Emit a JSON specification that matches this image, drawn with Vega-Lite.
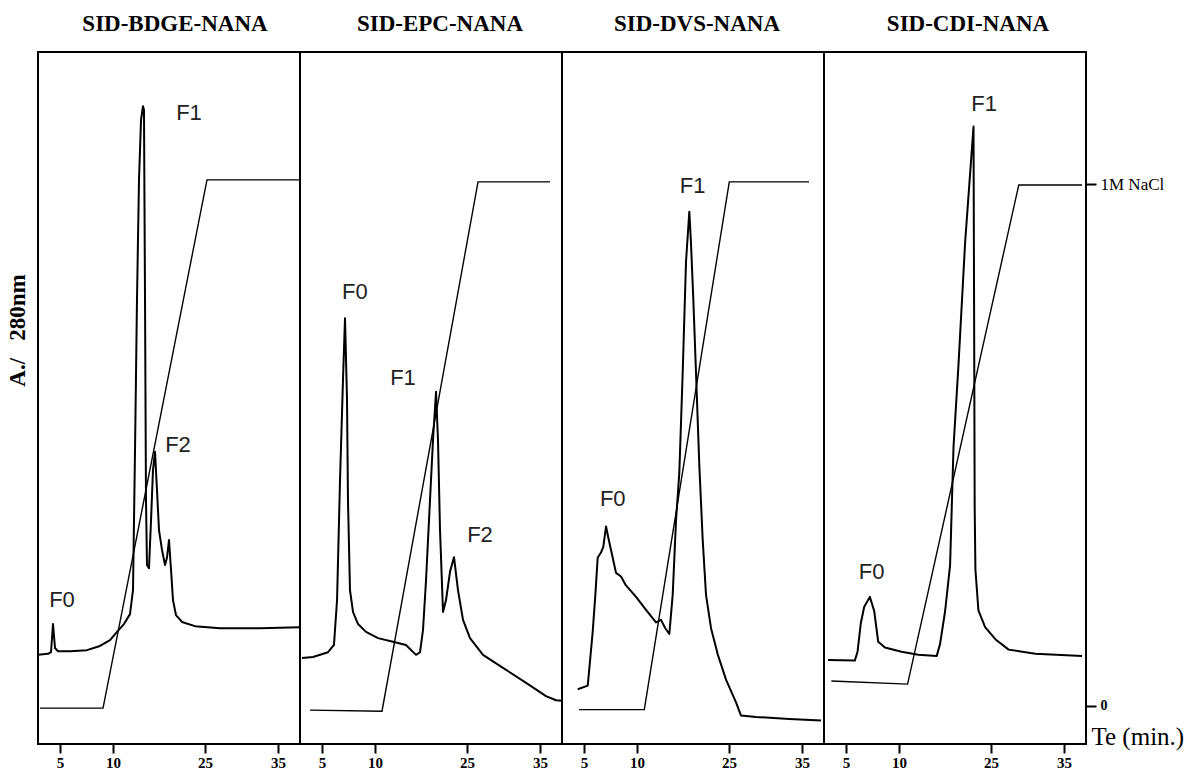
{
  "$schema": "https://vega.github.io/schema/vega-lite/v6.json",
  "background": "white",
  "padding": {"left": 5, "top": 12, "right": 0, "bottom": 0},
  "config": {
    "view": {"stroke": "black", "strokeWidth": 2},
    "axis": {"grid": false}
  },
  "datasets": {
    "abs": [
      {"panel": "BDGE", "t": 2.93, "v": 0.098}, {"panel": "BDGE", "t": 3.87, "v": 0.100}, {"panel": "BDGE", "t": 4.15, "v": 0.103}, {"panel": "BDGE", "t": 4.34, "v": 0.157}, {"panel": "BDGE", "t": 4.53, "v": 0.111}, {"panel": "BDGE", "t": 4.81, "v": 0.105}, {"panel": "BDGE", "t": 5.94, "v": 0.105}, {"panel": "BDGE", "t": 7.55, "v": 0.107}, {"panel": "BDGE", "t": 8.77, "v": 0.115}, {"panel": "BDGE", "t": 9.72, "v": 0.126}, {"panel": "BDGE", "t": 10.65, "v": 0.142}, {"panel": "BDGE", "t": 11.79, "v": 0.157}, {"panel": "BDGE", "t": 12.77, "v": 0.176}, {"panel": "BDGE", "t": 13.26, "v": 0.222}, {"panel": "BDGE", "t": 13.59, "v": 0.490}, {"panel": "BDGE", "t": 13.91, "v": 0.778}, {"panel": "BDGE", "t": 14.24, "v": 1.008}, {"panel": "BDGE", "t": 14.57, "v": 1.123}, {"panel": "BDGE", "t": 14.89, "v": 1.149}, {"panel": "BDGE", "t": 15.05, "v": 1.142}, {"panel": "BDGE", "t": 15.22, "v": 0.778}, {"panel": "BDGE", "t": 15.38, "v": 0.395}, {"panel": "BDGE", "t": 15.54, "v": 0.270}, {"panel": "BDGE", "t": 15.87, "v": 0.264}, {"panel": "BDGE", "t": 16.20, "v": 0.356}, {"panel": "BDGE", "t": 16.52, "v": 0.452}, {"panel": "BDGE", "t": 16.85, "v": 0.487}, {"panel": "BDGE", "t": 17.17, "v": 0.414}, {"panel": "BDGE", "t": 17.50, "v": 0.337}, {"panel": "BDGE", "t": 17.99, "v": 0.299}, {"panel": "BDGE", "t": 18.48, "v": 0.270}, {"panel": "BDGE", "t": 18.80, "v": 0.284}, {"panel": "BDGE", "t": 19.13, "v": 0.318}, {"panel": "BDGE", "t": 19.46, "v": 0.261}, {"panel": "BDGE", "t": 19.78, "v": 0.203}, {"panel": "BDGE", "t": 20.27, "v": 0.174}, {"panel": "BDGE", "t": 21.25, "v": 0.161}, {"panel": "BDGE", "t": 23.37, "v": 0.153}, {"panel": "BDGE", "t": 27.06, "v": 0.149}, {"panel": "BDGE", "t": 32.53, "v": 0.149}, {"panel": "BDGE", "t": 38.0, "v": 0.151},
      {"panel": "EPC", "t": 3.11, "v": 0.092}, {"panel": "EPC", "t": 4.15, "v": 0.094}, {"panel": "EPC", "t": 5.57, "v": 0.103}, {"panel": "EPC", "t": 6.13, "v": 0.117}, {"panel": "EPC", "t": 6.42, "v": 0.203}, {"panel": "EPC", "t": 6.70, "v": 0.433}, {"panel": "EPC", "t": 6.98, "v": 0.625}, {"panel": "EPC", "t": 7.17, "v": 0.743}, {"panel": "EPC", "t": 7.36, "v": 0.586}, {"panel": "EPC", "t": 7.45, "v": 0.395}, {"panel": "EPC", "t": 7.64, "v": 0.222}, {"panel": "EPC", "t": 7.93, "v": 0.180}, {"panel": "EPC", "t": 8.40, "v": 0.157}, {"panel": "EPC", "t": 9.15, "v": 0.142}, {"panel": "EPC", "t": 10.49, "v": 0.130}, {"panel": "EPC", "t": 12.94, "v": 0.123}, {"panel": "EPC", "t": 15.05, "v": 0.117}, {"panel": "EPC", "t": 16.69, "v": 0.098}, {"panel": "EPC", "t": 17.34, "v": 0.103}, {"panel": "EPC", "t": 17.83, "v": 0.146}, {"panel": "EPC", "t": 18.32, "v": 0.241}, {"panel": "EPC", "t": 18.97, "v": 0.395}, {"panel": "EPC", "t": 19.46, "v": 0.510}, {"panel": "EPC", "t": 19.95, "v": 0.602}, {"panel": "EPC", "t": 20.27, "v": 0.510}, {"panel": "EPC", "t": 20.60, "v": 0.337}, {"panel": "EPC", "t": 21.09, "v": 0.180}, {"panel": "EPC", "t": 21.58, "v": 0.203}, {"panel": "EPC", "t": 22.23, "v": 0.257}, {"panel": "EPC", "t": 22.88, "v": 0.285}, {"panel": "EPC", "t": 23.53, "v": 0.222}, {"panel": "EPC", "t": 24.35, "v": 0.165}, {"panel": "EPC", "t": 25.41, "v": 0.130}, {"panel": "EPC", "t": 27.19, "v": 0.098}, {"panel": "EPC", "t": 29.93, "v": 0.073}, {"panel": "EPC", "t": 33.36, "v": 0.042}, {"panel": "EPC", "t": 35.82, "v": 0.019}, {"panel": "EPC", "t": 37.19, "v": 0.011}, {"panel": "EPC", "t": 38.0, "v": 0.010},
      {"panel": "DVS", "t": 4.41, "v": 0.032}, {"panel": "DVS", "t": 5.35, "v": 0.039}, {"panel": "DVS", "t": 5.50, "v": 0.071}, {"panel": "DVS", "t": 5.82, "v": 0.142}, {"panel": "DVS", "t": 6.07, "v": 0.213}, {"panel": "DVS", "t": 6.29, "v": 0.284}, {"panel": "DVS", "t": 6.60, "v": 0.294}, {"panel": "DVS", "t": 6.82, "v": 0.305}, {"panel": "DVS", "t": 7.08, "v": 0.344}, {"panel": "DVS", "t": 7.33, "v": 0.319}, {"panel": "DVS", "t": 7.71, "v": 0.284}, {"panel": "DVS", "t": 8.02, "v": 0.255}, {"panel": "DVS", "t": 8.49, "v": 0.248}, {"panel": "DVS", "t": 8.96, "v": 0.231}, {"panel": "DVS", "t": 9.91, "v": 0.209}, {"panel": "DVS", "t": 11.47, "v": 0.184}, {"panel": "DVS", "t": 13.10, "v": 0.160}, {"panel": "DVS", "t": 13.91, "v": 0.165}, {"panel": "DVS", "t": 14.61, "v": 0.149}, {"panel": "DVS", "t": 15.27, "v": 0.138}, {"panel": "DVS", "t": 15.82, "v": 0.213}, {"panel": "DVS", "t": 16.36, "v": 0.355}, {"panel": "DVS", "t": 16.90, "v": 0.447}, {"panel": "DVS", "t": 17.45, "v": 0.639}, {"panel": "DVS", "t": 17.99, "v": 0.851}, {"panel": "DVS", "t": 18.53, "v": 0.947}, {"panel": "DVS", "t": 18.80, "v": 0.887}, {"panel": "DVS", "t": 19.18, "v": 0.780}, {"panel": "DVS", "t": 19.62, "v": 0.639}, {"panel": "DVS", "t": 20.16, "v": 0.461}, {"panel": "DVS", "t": 20.71, "v": 0.319}, {"panel": "DVS", "t": 21.25, "v": 0.213}, {"panel": "DVS", "t": 22.07, "v": 0.149}, {"panel": "DVS", "t": 23.16, "v": 0.099}, {"panel": "DVS", "t": 24.53, "v": 0.050}, {"panel": "DVS", "t": 25.96, "v": 0.007}, {"panel": "DVS", "t": 26.64, "v": -0.018}, {"panel": "DVS", "t": 28.70, "v": -0.021}, {"panel": "DVS", "t": 33.26, "v": -0.025}, {"panel": "DVS", "t": 37.60, "v": -0.028},
      {"panel": "CDI", "t": 3.30, "v": 0.088}, {"panel": "CDI", "t": 5.83, "v": 0.087}, {"panel": "CDI", "t": 6.09, "v": 0.104}, {"panel": "CDI", "t": 6.40, "v": 0.159}, {"panel": "CDI", "t": 6.72, "v": 0.190}, {"panel": "CDI", "t": 7.25, "v": 0.209}, {"panel": "CDI", "t": 7.66, "v": 0.182}, {"panel": "CDI", "t": 8.04, "v": 0.123}, {"panel": "CDI", "t": 8.67, "v": 0.112}, {"panel": "CDI", "t": 10.42, "v": 0.104}, {"panel": "CDI", "t": 13.15, "v": 0.098}, {"panel": "CDI", "t": 16.15, "v": 0.096}, {"panel": "CDI", "t": 16.70, "v": 0.119}, {"panel": "CDI", "t": 17.52, "v": 0.182}, {"panel": "CDI", "t": 18.33, "v": 0.270}, {"panel": "CDI", "t": 18.89, "v": 0.497}, {"panel": "CDI", "t": 19.70, "v": 0.654}, {"panel": "CDI", "t": 20.79, "v": 0.890}, {"panel": "CDI", "t": 22.15, "v": 1.110}, {"panel": "CDI", "t": 22.25, "v": 0.733}, {"panel": "CDI", "t": 22.34, "v": 0.379}, {"panel": "CDI", "t": 22.46, "v": 0.261}, {"panel": "CDI", "t": 22.95, "v": 0.183}, {"panel": "CDI", "t": 24.04, "v": 0.151}, {"panel": "CDI", "t": 25.59, "v": 0.128}, {"panel": "CDI", "t": 27.41, "v": 0.108}, {"panel": "CDI", "t": 31.08, "v": 0.100}, {"panel": "CDI", "t": 37.47, "v": 0.096}
    ],
    "grad": [
      {"panel": "BDGE", "t": 3.11, "v": -0.004}, {"panel": "BDGE", "t": 9.06, "v": -0.004}, {"panel": "BDGE", "t": 25.27, "v": 1.008}, {"panel": "BDGE", "t": 38.0, "v": 1.008},
      {"panel": "EPC", "t": 3.87, "v": -0.008}, {"panel": "EPC", "t": 11.14, "v": -0.010}, {"panel": "EPC", "t": 26.51, "v": 1.004}, {"panel": "EPC", "t": 36.37, "v": 1.004},
      {"panel": "DVS", "t": 4.53, "v": -0.007}, {"panel": "DVS", "t": 11.19, "v": -0.007}, {"panel": "DVS", "t": 25.04, "v": 1.004}, {"panel": "DVS", "t": 35.96, "v": 1.004},
      {"panel": "CDI", "t": 3.62, "v": 0.048}, {"panel": "CDI", "t": 11.40, "v": 0.042}, {"panel": "CDI", "t": 28.80, "v": 0.998}, {"panel": "CDI", "t": 37.47, "v": 0.998}
    ],
    "lab": [
      {"panel": "BDGE", "label": "F0", "t": 5.19, "v": 0.203}, {"panel": "BDGE", "label": "F1", "t": 22.39, "v": 1.136}, {"panel": "BDGE", "label": "F2", "t": 20.60, "v": 0.500},
      {"panel": "EPC", "label": "F0", "t": 8.11, "v": 0.793}, {"panel": "EPC", "label": "F1", "t": 14.57, "v": 0.628}, {"panel": "EPC", "label": "F2", "t": 26.78, "v": 0.328},
      {"panel": "DVS", "label": "F0", "t": 7.71, "v": 0.397}, {"panel": "DVS", "label": "F1", "t": 19.08, "v": 0.997},
      {"panel": "CDI", "label": "F0", "t": 7.41, "v": 0.257}, {"panel": "CDI", "label": "F1", "t": 23.88, "v": 1.153}
    ]
  },
  "hconcat": [
    {
      "width": 262, "height": 692,
      "title": {"text": "SID-BDGE-NANA", "font": "Liberation Serif", "fontWeight": "bold", "fontSize": 23, "offset": 16, "dx": 6, "color": "black"},
      "encoding": {
        "x": {"field": "t", "type": "quantitative", "scale": {"domain": [2.925, 5, 10, 25, 35, 38.01], "range": [0, 22, 75, 167, 240, 262], "nice": false, "zero": false},
              "axis": {"values": [5, 10, 25, 35], "title": null, "domain": false, "tickSize": 9, "tickWidth": 2, "tickColor": "black", "labelFont": "Liberation Serif", "labelFontWeight": "bold", "labelFontSize": 15, "labelColor": "black", "labelPadding": 2, "labelFlush": false, "labelOverlap": false, "format": "d"}},
        "y": {"field": "v", "type": "quantitative", "scale": {"domain": [-0.0728, 1.2529], "nice": false, "zero": false},
              "axis": {"title": "A./\u00a0\u00a0\u00a0280nm", "ticks": false, "labels": false, "domain": false, "titleFont": "Liberation Serif", "titleFontWeight": "bold", "titleFontSize": 23, "titlePadding": 9, "titleColor": "black", "titleY": 278}}
      },
      "layer": [
        {"data": {"name": "abs"}, "transform": [{"filter": "datum.panel == 'BDGE'"}], "mark": {"type": "line", "color": "black", "strokeWidth": 2, "strokeJoin": "round"}},
        {"data": {"name": "grad"}, "transform": [{"filter": "datum.panel == 'BDGE'"}], "mark": {"type": "line", "color": "black", "strokeWidth": 1.4}},
        {"data": {"name": "lab"}, "transform": [{"filter": "datum.panel == 'BDGE'"}], "mark": {"type": "text", "font": "Liberation Sans", "fontSize": 22, "color": "#222", "align": "center", "baseline": "middle"}, "encoding": {"text": {"field": "label"}}}
      ]
    },
    {
      "width": 262, "height": 692,
      "title": {"text": "SID-EPC-NANA", "font": "Liberation Serif", "fontWeight": "bold", "fontSize": 23, "offset": 16, "dx": 9, "color": "black"},
      "encoding": {
        "x": {"field": "t", "type": "quantitative", "scale": {"domain": [2.925, 5, 10, 25, 35, 38.01], "range": [0, 22, 75, 167, 240, 262], "nice": false, "zero": false},
              "axis": {"values": [5, 10, 25, 35], "title": null, "domain": false, "tickSize": 9, "tickWidth": 2, "tickColor": "black", "labelFont": "Liberation Serif", "labelFontWeight": "bold", "labelFontSize": 15, "labelColor": "black", "labelPadding": 2, "labelFlush": false, "labelOverlap": false, "format": "d"}},
        "y": {"field": "v", "type": "quantitative", "scale": {"domain": [-0.0728, 1.2529], "nice": false, "zero": false}, "axis": null}
      },
      "layer": [
        {"data": {"name": "abs"}, "transform": [{"filter": "datum.panel == 'EPC'"}], "mark": {"type": "line", "color": "black", "strokeWidth": 2, "strokeJoin": "round"}},
        {"data": {"name": "grad"}, "transform": [{"filter": "datum.panel == 'EPC'"}], "mark": {"type": "line", "color": "black", "strokeWidth": 1.4}},
        {"data": {"name": "lab"}, "transform": [{"filter": "datum.panel == 'EPC'"}], "mark": {"type": "text", "font": "Liberation Sans", "fontSize": 22, "color": "#222", "align": "center", "baseline": "middle"}, "encoding": {"text": {"field": "label"}}}
      ]
    },
    {
      "width": 262, "height": 692,
      "title": {"text": "SID-DVS-NANA", "font": "Liberation Serif", "fontWeight": "bold", "fontSize": 23, "offset": 16, "dx": 4, "color": "black"},
      "encoding": {
        "x": {"field": "t", "type": "quantitative", "scale": {"domain": [2.925, 5, 10, 25, 35, 38.01], "range": [0, 22, 75, 167, 240, 262], "nice": false, "zero": false},
              "axis": {"values": [5, 10, 25, 35], "title": null, "domain": false, "tickSize": 9, "tickWidth": 2, "tickColor": "black", "labelFont": "Liberation Serif", "labelFontWeight": "bold", "labelFontSize": 15, "labelColor": "black", "labelPadding": 2, "labelFlush": false, "labelOverlap": false, "format": "d"}},
        "y": {"field": "v", "type": "quantitative", "scale": {"domain": [-0.0728, 1.2529], "nice": false, "zero": false}, "axis": null}
      },
      "layer": [
        {"data": {"name": "abs"}, "transform": [{"filter": "datum.panel == 'DVS'"}], "mark": {"type": "line", "color": "black", "strokeWidth": 2, "strokeJoin": "round"}},
        {"data": {"name": "grad"}, "transform": [{"filter": "datum.panel == 'DVS'"}], "mark": {"type": "line", "color": "black", "strokeWidth": 1.4}},
        {"data": {"name": "lab"}, "transform": [{"filter": "datum.panel == 'DVS'"}], "mark": {"type": "text", "font": "Liberation Sans", "fontSize": 22, "color": "#222", "align": "center", "baseline": "middle"}, "encoding": {"text": {"field": "label"}}}
      ]
    },
    {
      "width": 262, "height": 692,
      "title": {"text": "SID-CDI-NANA", "font": "Liberation Serif", "fontWeight": "bold", "fontSize": 23, "offset": 16, "dx": 13, "color": "black"},
      "encoding": {
        "x": {"field": "t", "type": "quantitative", "scale": {"domain": [2.925, 5, 10, 25, 35, 38.01], "range": [0, 22, 75, 167, 240, 262], "nice": false, "zero": false},
              "axis": {"values": [5, 10, 25, 35], "title": "Te (min.)", "titleX": 267, "titleY": -8, "titleAlign": "left", "titleBaseline": "middle", "titleFont": "Liberation Serif", "titleFontWeight": "normal", "titleFontSize": 25, "titleColor": "black", "domain": false, "tickSize": 9, "tickWidth": 2, "tickColor": "black", "labelFont": "Liberation Serif", "labelFontWeight": "bold", "labelFontSize": 15, "labelColor": "black", "labelPadding": 2, "labelFlush": false, "labelOverlap": false, "format": "d"}},
        "y": {"field": "v", "type": "quantitative", "scale": {"domain": [-0.0728, 1.2529], "nice": false, "zero": false},
              "axis": {"orient": "right", "values": [0, 1], "labelExpr": "datum.value == 1 ? '1M NaCl' : '0'", "title": null, "domain": false, "tickSize": 10, "tickWidth": 2, "tickColor": "black", "labelFont": "Liberation Serif", "labelFontSize": {"condition": {"test": "datum.value == 0", "value": 14}, "value": 17}, "labelFontWeight": {"condition": {"test": "datum.value == 0", "value": "bold"}, "value": "normal"}, "labelColor": "black", "labelPadding": 4}}
      },
      "layer": [
        {"data": {"name": "abs"}, "transform": [{"filter": "datum.panel == 'CDI'"}], "mark": {"type": "line", "color": "black", "strokeWidth": 2, "strokeJoin": "round"}},
        {"data": {"name": "grad"}, "transform": [{"filter": "datum.panel == 'CDI'"}], "mark": {"type": "line", "color": "black", "strokeWidth": 1.4}},
        {"data": {"name": "lab"}, "transform": [{"filter": "datum.panel == 'CDI'"}], "mark": {"type": "text", "font": "Liberation Sans", "fontSize": 22, "color": "#222", "align": "center", "baseline": "middle"}, "encoding": {"text": {"field": "label"}}}
      ]
    }
  ],
  "spacing": 0,
  "bounds": "flush"
}
